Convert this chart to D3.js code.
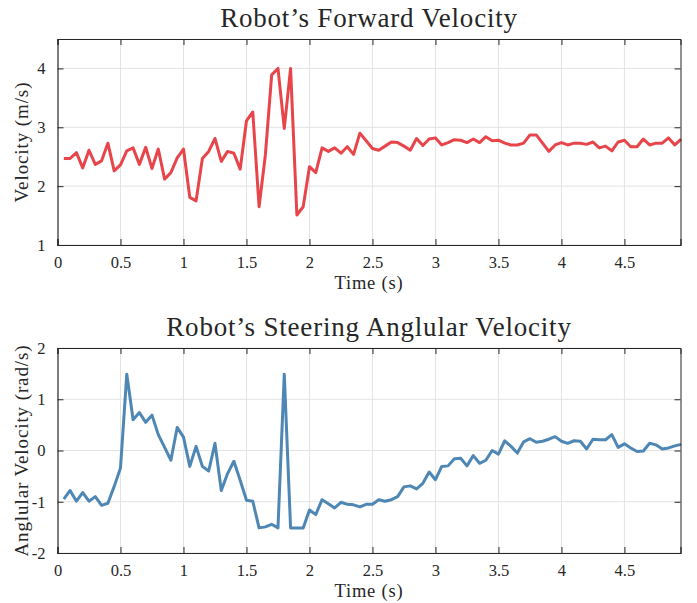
<!DOCTYPE html>
<html>
<head>
<meta charset="utf-8">
<script src="https://cdn.jsdelivr.net/npm/d3@7"></script>
<style>
  body { margin: 0; background: #fff; }
  svg text { font-family: "Liberation Serif", "DejaVu Serif", serif; fill: #262626; }
</style>
</head>
<body>
<svg id="chart" width="697" height="603"></svg>
<script>
// Sample times (s), one reading every 0.05 s
const time = d3.range(1, 100).map(i => +(i * 0.05).toFixed(2));

// Forward velocity (m/s)
const forwardVelocity = [
  2.47, 2.47, 2.57, 2.31, 2.61, 2.37, 2.43, 2.73, 2.26, 2.36,
  2.60, 2.65, 2.37, 2.66, 2.30, 2.63, 2.12, 2.23, 2.48, 2.63,
  1.81, 1.75, 2.47, 2.59, 2.81, 2.42, 2.59, 2.56, 2.29, 3.11,
  3.26, 1.65, 2.53, 3.89, 4.00, 2.98, 4.00, 1.51, 1.65, 2.33,
  2.23, 2.65, 2.59, 2.65, 2.56, 2.67, 2.54, 2.90, 2.77, 2.64,
  2.61, 2.68, 2.75, 2.74, 2.68, 2.61, 2.81, 2.69, 2.80, 2.82,
  2.70, 2.74, 2.79, 2.78, 2.74, 2.80, 2.74, 2.84, 2.77, 2.78,
  2.73, 2.70, 2.70, 2.73, 2.87, 2.87, 2.73, 2.59, 2.70, 2.74,
  2.70, 2.73, 2.73, 2.71, 2.75, 2.65, 2.68, 2.60, 2.75, 2.78,
  2.67, 2.67, 2.80, 2.70, 2.73, 2.73, 2.82, 2.70, 2.80
];

// Steering angular velocity (rad/s)
const angularVelocity = [
  -0.95, -0.78, -0.99, -0.82, -0.99, -0.90, -1.07, -1.03, -0.70, -0.34,
   1.49,  0.60,  0.74,  0.55,  0.69,  0.31,  0.06, -0.19,  0.45,  0.26,
  -0.31,  0.08, -0.31, -0.40,  0.14, -0.78, -0.45, -0.21, -0.58, -0.97,
  -0.99, -1.51, -1.49, -1.44, -1.51,  1.49, -1.51, -1.51, -1.51, -1.16,
  -1.25, -0.96, -1.04, -1.12, -1.01, -1.05, -1.06, -1.10, -1.05, -1.05,
  -0.96, -0.99, -0.96, -0.90, -0.71, -0.69, -0.75, -0.64, -0.42, -0.57,
  -0.31, -0.30, -0.16, -0.15, -0.30, -0.10, -0.25, -0.19,  0.00, -0.07,
   0.19,  0.08, -0.05,  0.17,  0.23,  0.16,  0.18,  0.22,  0.27,  0.18,
   0.14,  0.19,  0.18,  0.03,  0.22,  0.21,  0.21,  0.31,  0.06,  0.13,
   0.05, -0.02, -0.01,  0.14,  0.11,  0.03,  0.05,  0.09,  0.12
];

const xTicks = [0, 0.5, 1, 1.5, 2, 2.5, 3, 3.5, 4, 4.5];
const forwardTicks = [1, 2, 3, 4];
const angularTicks = [-2, -1, 0, 1, 2];

const svg = d3.select("#chart");
const left = 57.5, right = 680.5;

const x = d3.scaleLinear().domain([0, 4.945]).range([left, right]);

function panel(cfg) {
  const y = d3.scaleLinear().domain(cfg.yDomain).range([cfg.bottom, cfg.top]);
  const g = svg.append("g");

  // grid
  g.append("g").selectAll("line").data(xTicks.slice(1)).join("line")
    .attr("x1", d => x(d)).attr("x2", d => x(d))
    .attr("y1", cfg.top).attr("y2", cfg.bottom)
    .attr("stroke", "#e3e3e3").attr("stroke-width", 1);
  g.append("g").selectAll("line").data(cfg.yTicks).join("line")
    .attr("x1", left).attr("x2", right)
    .attr("y1", d => y(d)).attr("y2", d => y(d))
    .attr("stroke", "#e3e3e3").attr("stroke-width", 1);

  // data line
  const line = d3.line().x((d, i) => x(time[i])).y(d => y(d));
  g.append("path").datum(cfg.values)
    .attr("d", line)
    .attr("fill", "none")
    .attr("stroke", cfg.color)
    .attr("stroke-width", 3)
    .attr("stroke-linejoin", "round");

  // axes with inward ticks on all sides
  const tickLen = 6;
  const xb = g.append("g").attr("transform", `translate(0,${cfg.bottom})`)
    .call(d3.axisBottom(x).tickValues(xTicks).tickSize(-tickLen).tickPadding(11)
      .tickFormat(d => String(d)));
  const xt = g.append("g").attr("transform", `translate(0,${cfg.top})`)
    .call(d3.axisTop(x).tickValues(xTicks).tickSize(-tickLen).tickFormat(""));
  const yl = g.append("g").attr("transform", `translate(${left},0)`)
    .call(d3.axisLeft(y).tickValues(cfg.yTicks).tickSize(-tickLen).tickPadding(12)
      .tickFormat(d => String(d)));
  const yr = g.append("g").attr("transform", `translate(${right},0)`)
    .call(d3.axisRight(y).tickValues(cfg.yTicks).tickSize(-tickLen).tickFormat(""));

  [xb, xt, yl, yr].forEach(a => {
    a.select(".domain").attr("stroke", "#262626").attr("stroke-width", 1);
    a.selectAll(".tick line").attr("stroke", "#262626");
    a.selectAll("text").attr("font-family", "Liberation Serif, DejaVu Serif, serif")
      .attr("font-size", 16.5).attr("fill", "#262626");
  });
  xb.select(".domain").attr("stroke-width", 1.2);
  yl.select(".domain").attr("stroke-width", 1.2);

  // labels
  svg.append("text").attr("x", (left + right) / 2).attr("y", cfg.top - 12)
    .attr("text-anchor", "middle").attr("font-size", 27).attr("fill", "#000")
    .attr("letter-spacing", 0.8)
    .text(cfg.title);
  svg.append("text").attr("x", (left + right) / 2).attr("y", cfg.bottom + 44)
    .attr("text-anchor", "middle").attr("font-size", 18.5).attr("letter-spacing", 0.8)
    .text("Time (s)");
  svg.append("text")
    .attr("transform", `translate(28,${(cfg.top + cfg.bottom) / 2}) rotate(-90)`)
    .attr("text-anchor", "middle").attr("font-size", 19).attr("letter-spacing", 0.9)
    .text(cfg.yLabel);
}

panel({
  top: 39, bottom: 245, yDomain: [1, 4.5], yTicks: forwardTicks,
  values: forwardVelocity, color: "#e8454b",
  title: "Robot\u2019s Forward Velocity", yLabel: "Velocity (m/s)"
});

panel({
  top: 348, bottom: 553, yDomain: [-2, 2], yTicks: angularTicks,
  values: angularVelocity, color: "#4f87b4",
  title: "Robot\u2019s Steering Anglular Velocity", yLabel: "Anglular Velocity (rad/s)"
});
</script>
</body>
</html>
